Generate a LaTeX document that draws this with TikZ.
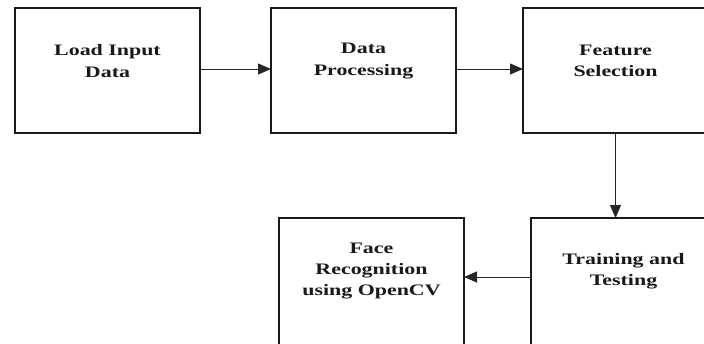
\documentclass[tikz,border=0pt]{standalone}
\usepackage{fontspec}
\setmainfont{Liberation Serif}[FakeStretch=1.37]
\usetikzlibrary{arrows.meta}
\begin{document}
\begin{tikzpicture}[x=1pt,y=-1pt,
  box/.style={draw=black!90,line width=1.8pt,minimum width=185pt,minimum height=125pt,inner sep=0pt,outer sep=0pt,anchor=north west},
  tallbox/.style={box,minimum height=135pt},
  txt/.style={font=\fontsize{16}{21.3}\selectfont\bfseries,align=center,inner sep=0pt,text=black!90},
  arr/.style={draw=black!85,line width=1pt,-{Triangle[length=13pt,width=11pt]}}]
\useasboundingbox (0,0) rectangle (704,343);
\clip (0,0) rectangle (704,343);
\node[box] (b1) at (15,8) {};
\node[box] (b2) at (271,8) {};
\node[box] (b3) at (523,8) {};
\node[tallbox] (b4) at (531,218) {};
\node[tallbox] (b5) at (279,218) {};
\node[txt] (t1) at ([yshift=-53pt]b1.north) {Load Input\\Data};
\node[txt] (t2) at ([yshift=-53pt]b2.north) {Data\\Processing};
\node[txt] (t3) at ([yshift=-53pt]b3.north) {Feature\\Selection};
\node[txt] (t4) at ([yshift=-53pt]b4.north) {Training and\\Testing};
\node[txt] (t5) at ([yshift=-53pt]b5.north) {Face\\Recognition\\using OpenCV};
\draw[arr] ([yshift=1.5pt]b1.east) -- ([yshift=1.5pt]b2.west);
\draw[arr] ([yshift=1.5pt]b2.east) -- ([yshift=1.5pt]b3.west);
\draw[arr] (b3.south) -- (b3.south |- b4.north);
\draw[arr] ([yshift=-59pt]b4.north west) -- ([yshift=-59pt]b5.north east);
\end{tikzpicture}
\end{document}
